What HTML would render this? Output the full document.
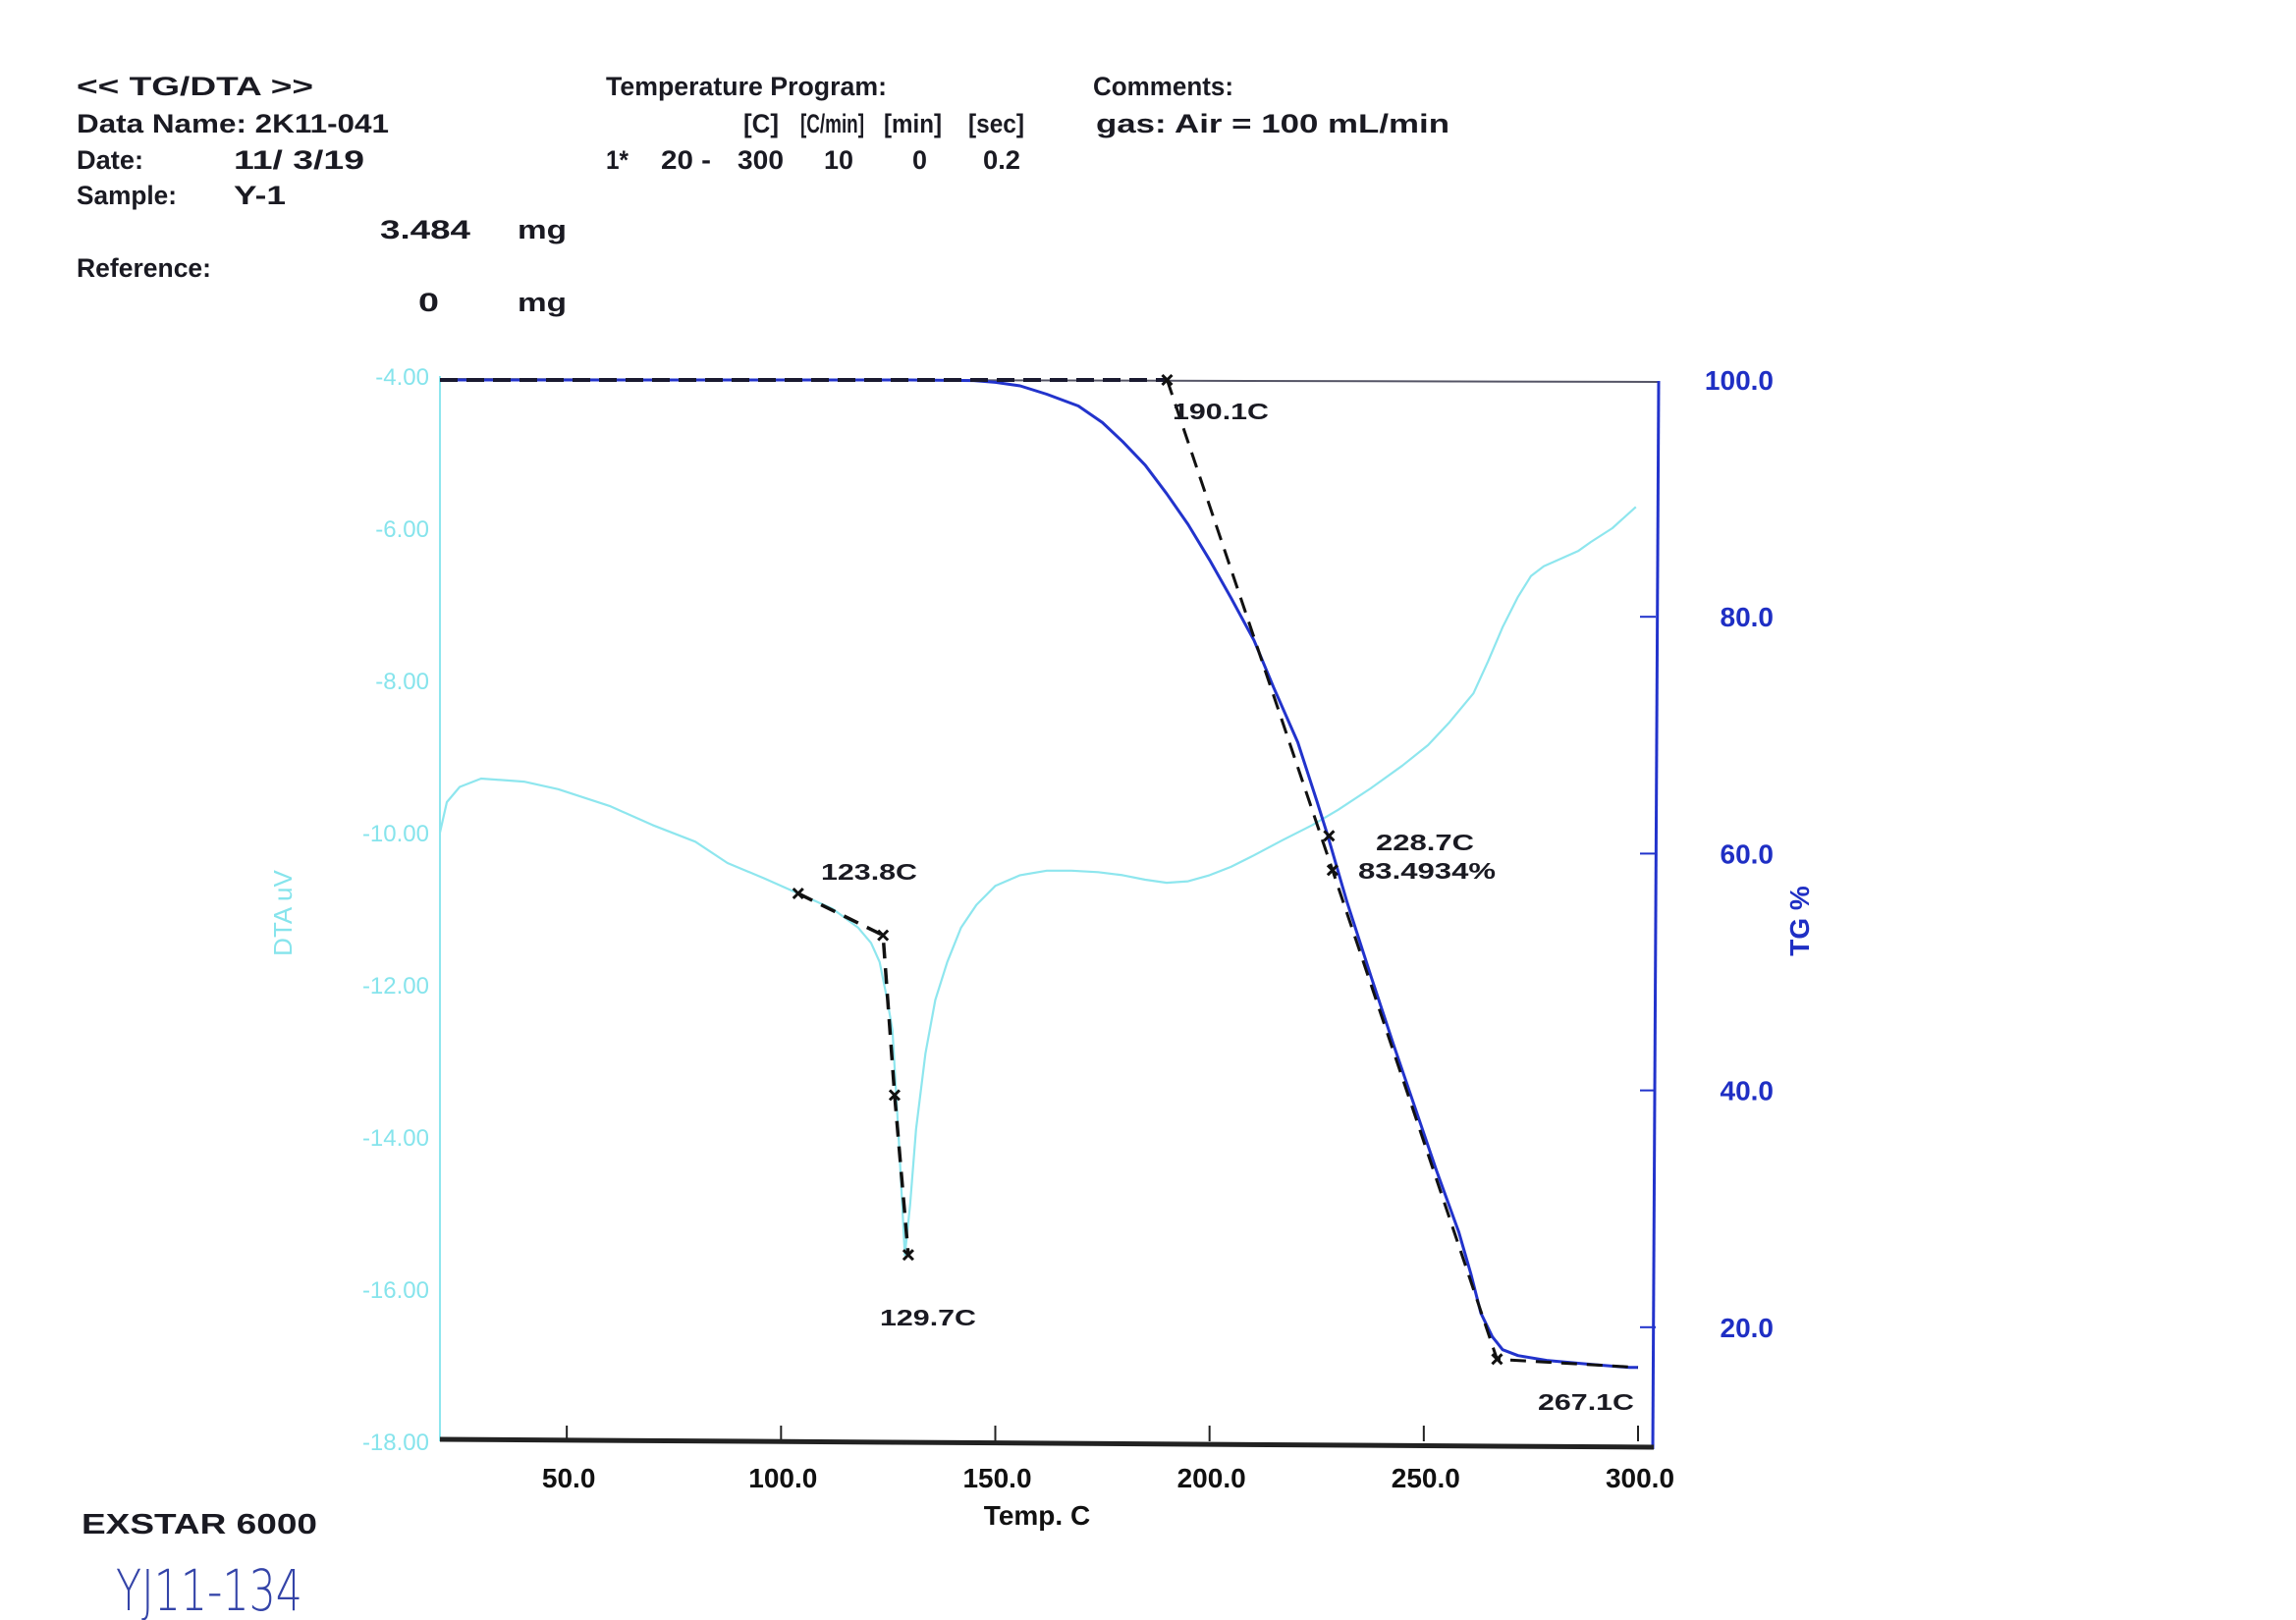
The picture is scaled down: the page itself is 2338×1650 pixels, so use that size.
<!DOCTYPE html>
<html><head><meta charset="utf-8"><title>TG/DTA</title>
<style>
html,body{margin:0;padding:0;background:#fff;}
svg{display:block;}
.hd{font-family:"Liberation Sans",sans-serif;font-weight:bold;font-size:27px;fill:#1a1a22;}
.lbl{font-family:"Liberation Sans",sans-serif;font-weight:bold;font-size:23px;fill:#1a1a22;}
.dt{font-family:"Liberation Sans",sans-serif;font-size:24px;fill:#86e4ec;}
.tg{font-family:"Liberation Sans",sans-serif;font-weight:bold;font-size:28px;fill:#1f2fc4;}
.xt{font-family:"Liberation Sans",sans-serif;font-weight:bold;font-size:28px;fill:#111;}
</style></head>
<body>
<svg id="chart" width="2338" height="1650" viewBox="0 0 2338 1650" xmlns="http://www.w3.org/2000/svg">
<rect width="2338" height="1650" fill="#fff"/>
<g>
<text class="hd" x="78" y="97" textLength="241" lengthAdjust="spacingAndGlyphs">&lt;&lt; TG/DTA &gt;&gt;</text>
<text class="hd" x="78" y="135" textLength="318" lengthAdjust="spacingAndGlyphs">Data Name: 2K11-041</text>
<text class="hd" x="78" y="172" textLength="68" lengthAdjust="spacingAndGlyphs">Date:</text>
<text class="hd" x="238" y="172" textLength="133" lengthAdjust="spacingAndGlyphs">11/ 3/19</text>
<text class="hd" x="78" y="208" textLength="102" lengthAdjust="spacingAndGlyphs">Sample:</text>
<text class="hd" x="238" y="208" textLength="53" lengthAdjust="spacingAndGlyphs">Y-1</text>
<text class="hd" x="387" y="243" textLength="92" lengthAdjust="spacingAndGlyphs">3.484</text>
<text class="hd" x="527" y="243" textLength="50" lengthAdjust="spacingAndGlyphs">mg</text>
<text class="hd" x="78" y="282" textLength="137" lengthAdjust="spacingAndGlyphs">Reference:</text>
<text class="hd" x="426" y="317" textLength="21" lengthAdjust="spacingAndGlyphs">0</text>
<text class="hd" x="527" y="317" textLength="50" lengthAdjust="spacingAndGlyphs">mg</text>
<text class="hd" x="617" y="97" textLength="286" lengthAdjust="spacingAndGlyphs">Temperature Program:</text>
<text class="hd" x="757" y="135" textLength="36" lengthAdjust="spacingAndGlyphs">[C]</text>
<text class="hd" x="815" y="135" textLength="65" lengthAdjust="spacingAndGlyphs">[C/min]</text>
<text class="hd" x="900" y="135" textLength="59" lengthAdjust="spacingAndGlyphs">[min]</text>
<text class="hd" x="986" y="135" textLength="57" lengthAdjust="spacingAndGlyphs">[sec]</text>
<text class="hd" x="617" y="172" textLength="23" lengthAdjust="spacingAndGlyphs">1*</text>
<text class="hd" x="673" y="172" textLength="51" lengthAdjust="spacingAndGlyphs">20 -</text>
<text class="hd" x="751" y="172" textLength="47" lengthAdjust="spacingAndGlyphs">300</text>
<text class="hd" x="839" y="172" textLength="30" lengthAdjust="spacingAndGlyphs">10</text>
<text class="hd" x="929" y="172" textLength="15" lengthAdjust="spacingAndGlyphs">0</text>
<text class="hd" x="1001" y="172" textLength="38" lengthAdjust="spacingAndGlyphs">0.2</text>
<text class="hd" x="1113" y="97" textLength="143" lengthAdjust="spacingAndGlyphs">Comments:</text>
<text class="hd" x="1116" y="135" textLength="360" lengthAdjust="spacingAndGlyphs">gas: Air = 100 mL/min</text>
</g>
<g id="plot"></g>
<text class="hd" x="83" y="1562" textLength="240" lengthAdjust="spacingAndGlyphs" style="font-size:29px">EXSTAR 6000</text>
<text x="118" y="1640" style="font-family:'DejaVu Sans',sans-serif;font-weight:200;font-size:58px;fill:#3444a8" textLength="190" lengthAdjust="spacingAndGlyphs">YJ11-134</text>
</svg>
<script>
// ---- data ----
const xTicks = [50, 100, 150, 200, 250, 300];
const xTickLabels = ["50.0", "100.0", "150.0", "200.0", "250.0", "300.0"];
const dtaTicks = [-4, -6, -8, -10, -12, -14, -16, -18];
const dtaTickLabels = ["-4.00", "-6.00", "-8.00", "-10.00", "-12.00", "-14.00", "-16.00", "-18.00"];
const tgTicks = [100, 80, 60, 40, 20];
const tgTickLabels = ["100.0", "80.0", "60.0", "40.0", "20.0"];
const dtaTemp = [20.4, 22, 25, 30, 40, 48, 60, 70, 80, 87.5, 96, 104, 112, 118, 121, 123, 124.8, 126, 127.5, 128.9, 130.1, 131.5, 133.7, 136, 138.8, 142, 145.6, 150, 155.8, 162, 167.8, 174, 179.7, 185, 190, 195, 200, 205, 210.3, 217, 224, 230, 237.6, 245, 251, 256, 261.6, 265, 268.4, 272, 275, 278, 282, 286, 289, 294, 299.5];
const dtaValue = [-10.0, -9.6, -9.4, -9.29, -9.33, -9.43, -9.65, -9.9, -10.12, -10.4, -10.6, -10.8, -11.0, -11.25, -11.45, -11.7, -12.2, -12.6, -14.05, -15.55, -14.9, -13.9, -12.9, -12.2, -11.7, -11.25, -10.95, -10.7, -10.56, -10.5, -10.5, -10.52, -10.56, -10.62, -10.66, -10.64, -10.56, -10.45, -10.3, -10.1, -9.9, -9.7, -9.42, -9.12, -8.85, -8.55, -8.17, -7.75, -7.3, -6.9, -6.63, -6.5, -6.4, -6.3, -6.18, -6.0, -5.72];
const tgTemp = [20.4, 60, 100, 130, 145, 150, 155.8, 162, 169.4, 175, 179.7, 185, 190, 195, 200, 205, 210.4, 215, 220.6, 225, 227.5, 232, 237.7, 243, 248, 253, 258.2, 261, 263.3, 266, 268.4, 272, 278.7, 288, 298, 300];
const tgValue = [100, 100, 100, 100, 99.95, 99.8, 99.5, 98.8, 97.8, 96.4, 94.8, 92.8, 90.4, 87.8, 84.8, 81.6, 78.0, 74.0, 69.4, 64.5, 61.6, 56.0, 49.6, 43.8, 38.5, 33.2, 28.0, 24.5, 21.2, 19.2, 18.1, 17.6, 17.2, 16.9, 16.6, 16.6];
const dtaTangentT = [104, 123.8, 126.5, 129.7];
const dtaTangentV = [-10.8, -11.35, -13.45, -15.55];
const tgTangentT = [190.1, 228.7, 267.1, 300];
const tgTangentV = [100, 58.6, 17.3, 16.6];
const annotText = ["190.1C", "228.7C", "83.4934%", "123.8C", "129.7C", "267.1C"];

// ---- axes ----
const X0 = 448, X1 = 1668, T0 = 20.4, T1 = 300;
function xs(t) { return X0 + (t - T0) * (X1 - X0) / (T1 - T0); }
function yDta(v) { return 383 + (-4 - v) * 77.5; }
function yTg(p) { return 387 + (100 - p) * 12.06; }

const NS = "http://www.w3.org/2000/svg";
const plot = document.getElementById("plot");
function mk(tag, attrs, parent) {
  const el = document.createElementNS(NS, tag);
  for (const k in attrs) el.setAttribute(k, attrs[k]);
  (parent || plot).appendChild(el);
  return el;
}
let el;
el = mk("line", {x1: X0, y1: 383, x2: X0, y2: 1468, stroke: "#8ee6ee", "stroke-width": 2});


el = mk("line", {x1: X0, y1: 386, x2: 1690, y2: 389, stroke: "#556", "stroke-width": 2});


el = mk("line", {x1: 1689, y1: 388, x2: 1683, y2: 1476, stroke: "#2233cc", "stroke-width": 3});


el = mk("line", {x1: X0, y1: 1466, x2: 1684, y2: 1474, stroke: "#222", "stroke-width": 5});



xTicks.forEach((t, i) => {
  const x = xs(t);
  const tk = mk("line", {x1: x, y1: 1468, x2: x, y2: 1452, stroke: "#222", "stroke-width": 2});
  
  
  const tx = mk("text", {x: x + 2, y: 1515, "text-anchor": "middle", class: "xt"});
  tx.textContent = xTickLabels[i];
  
  
});
dtaTicks.forEach((v, i) => {
  const tx = mk("text", {x: 437, y: yDta(v) + 9, "text-anchor": "end", class: "dt"});
  tx.textContent = dtaTickLabels[i];
  
  
});
tgTicks.forEach((p, i) => {
  const y = yTg(p);
  if (p !== 100) {
    const tk = mk("line", {x1: 1670, y1: y, x2: 1686, y2: y, stroke: "#2233cc", "stroke-width": 2});
    
    
  }
  const tx = mk("text", {x: 1806, y: y + 10, "text-anchor": "end", class: "tg"});
  tx.textContent = tgTickLabels[i];
  
  
});
el = mk("text", {x: 0, y: 0, class: "tg", transform: "translate(1842,938) rotate(-90)", "text-anchor": "middle"});
el.textContent = "TG %";


el = mk("text", {x: 0, y: 0, class: "dt", transform: "translate(297,930) rotate(-90)", "text-anchor": "middle", style: "font-size:26px"});
el.textContent = "DTA uV";


el = mk("text", {x: 1056, y: 1553, "text-anchor": "middle", class: "xt"});
el.textContent = "Temp. C";



function pathFrom(ts, vs, yf) {
  return ts.map((t, i) => (i ? "L" : "M") + xs(t).toFixed(1) + "," + yf(vs[i]).toFixed(1)).join(" ");
}
el = mk("path", {d: pathFrom(dtaTemp, dtaValue, yDta), fill: "none", stroke: "#8ee6ee", "stroke-width": 2.2, "stroke-linejoin": "round"});


el = mk("path", {d: pathFrom(tgTemp, tgValue, yTg), fill: "none", stroke: "#2233cc", "stroke-width": 3, "stroke-linejoin": "round"});


el = mk("line", {x1: xs(T0), y1: yTg(100), x2: xs(tgTangentT[0]), y2: yTg(100), stroke: "#1a1a30", "stroke-width": 4, "stroke-dasharray": "18 9"});


el = mk("path", {d: pathFrom(tgTangentT, tgTangentV, yTg), fill: "none", stroke: "#111", "stroke-width": 3, "stroke-dasharray": "16 10"});


el = mk("path", {d: pathFrom(dtaTangentT, dtaTangentV, yDta), fill: "none", stroke: "#111", "stroke-width": 3.5, "stroke-dasharray": "16 10"});


function marker(x, y) {
  const m = mk("path", {d: `M${x-5},${y-5} L${x+5},${y+5} M${x+5},${y-5} L${x-5},${y+5}`, stroke: "#111", "stroke-width": 3});
  
  
}
dtaTangentT.forEach((t, i) => marker(xs(t), yDta(dtaTangentV[i])));
tgTangentT.slice(0, 3).forEach((t, i) => marker(xs(t), yTg(tgTangentV[i])));
marker(xs(227.9), yTg(61.5));
const annPos = [[1194, 427], [1401, 866], [1383, 895], [836, 896], [896, 1350], [1566, 1436]];
const annW = [98, 100, 140, 98, 98, 98];
annotText.forEach((s, i) => {
  const tx = mk("text", {x: annPos[i][0], y: annPos[i][1], class: "lbl", textLength: annW[i], lengthAdjust: "spacingAndGlyphs"});
  tx.textContent = s;
  
  
});
</script>
</body></html>
